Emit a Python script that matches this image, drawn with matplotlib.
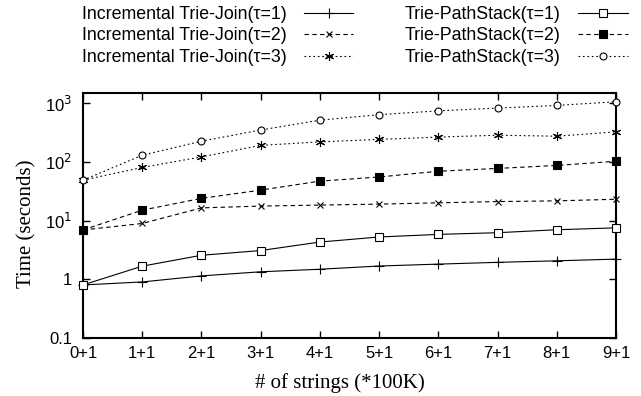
import matplotlib
matplotlib.use("Agg")
import matplotlib.pyplot as plt
from matplotlib.ticker import FixedLocator, FixedFormatter, NullLocator

# dataset sizes (*100K)
labels = ["0+1", "1+1", "2+1", "3+1", "4+1", "5+1", "6+1", "7+1", "8+1", "9+1"]

# running time in seconds
tj_t1 = [0.80, 0.90, 1.14, 1.34, 1.48, 1.68, 1.81, 1.94, 2.06, 2.2]
tj_t2 = [6.9, 8.9, 16.4, 17.6, 18.3, 19.0, 20.0, 21.0, 21.6, 23.0]
tj_t3 = [48.6, 80, 121, 190, 218, 240, 263, 283, 272, 323]
ps_t1 = [0.8, 1.67, 2.56, 3.08, 4.3, 5.24, 5.8, 6.2, 6.96, 7.5]
ps_t2 = [6.9, 15, 23.8, 32.9, 46.8, 55, 69, 77, 86.5, 102]
ps_t3 = [48.6, 129, 224, 347, 510, 633, 735, 820, 910, 1050]

sans = "Liberation Sans"
serif = "Liberation Serif"

W, H = 641, 396
fig = plt.figure(figsize=(W / 100, H / 100), dpi=100)
# plot frame in pixels: x 83..616, y 93..338
ax = fig.add_axes([83 / W, 1 - 338 / H, (616 - 83) / W, (338 - 93) / H])

x = list(range(len(labels)))
lw = 0.8
styles = [
    (tj_t1, "Incremental Trie-Join(\u03c4=1)", "-", "+", "none", 7),
    (tj_t2, "Incremental Trie-Join(\u03c4=2)", (0, (4, 3)), "x", "none", 5),
    (tj_t3, "Incremental Trie-Join(\u03c4=3)", (0, (1.5, 2.5)), (6, 2, 0), "none", 6.5),
    (ps_t1, "Trie-PathStack(\u03c4=1)", "-", "s", "white", 5.3),
    (ps_t2, "Trie-PathStack(\u03c4=2)", (0, (4, 3)), "s", "black", 5.8),
    (ps_t3, "Trie-PathStack(\u03c4=3)", (0, (1.5, 2.5)), "o", "white", 5),
]

handles = []
for vals, name, ls, mk, fc, ms in styles:
    h, = ax.plot(x, vals, color="black", linestyle=ls, linewidth=lw,
                 marker=mk, markersize=ms, markerfacecolor=fc,
                 markeredgecolor="black", markeredgewidth=0.8,
                 label=name, clip_on=False, zorder=3)
    handles.append(h)

ax.set_yscale("log")
ax.set_xlim(0, 9)
ax.set_ylim(0.1, 1480)

ax.xaxis.set_major_locator(FixedLocator(x))
ax.xaxis.set_major_formatter(FixedFormatter(labels))
ax.yaxis.set_major_locator(FixedLocator([0.1, 1, 10, 100, 1000]))
ax.yaxis.set_major_formatter(FixedFormatter(["0.1", "1", "10$^1$", "10$^2$", "10$^3$"]))
ax.yaxis.set_minor_locator(NullLocator())

ax.tick_params(which="major", direction="in", length=5, width=1.0,
               top=True, right=True, labelsize=12)
ax.tick_params(axis="x", pad=6)
ax.tick_params(axis="y", pad=8)
for lbl in ax.get_xticklabels() + ax.get_yticklabels():
    lbl.set_fontfamily(sans)
for s in ax.spines.values():
    s.set_linewidth(1.5)

fig.text(340 / W, 1 - 383 / H, "# of strings (*100K)", fontfamily=serif,
         fontsize=15, ha="center", va="center")
fig.text(27 / W, 1 - 224 / H, "Time (seconds)", fontfamily=serif,
         fontsize=15, ha="center", va="center", rotation=90)

leg = fig.legend(handles=handles, ncol=2, loc="upper left",
                 bbox_to_anchor=(82 / W, 1 - 6 / H), frameon=False,
                 borderpad=0, borderaxespad=0,
                 markerfirst=False, handlelength=2.8, handletextpad=0.95,
                 columnspacing=2.9, labelspacing=0.25,
                 prop={"family": sans, "size": 12.8})

fig.savefig("out.png", dpi=100)
